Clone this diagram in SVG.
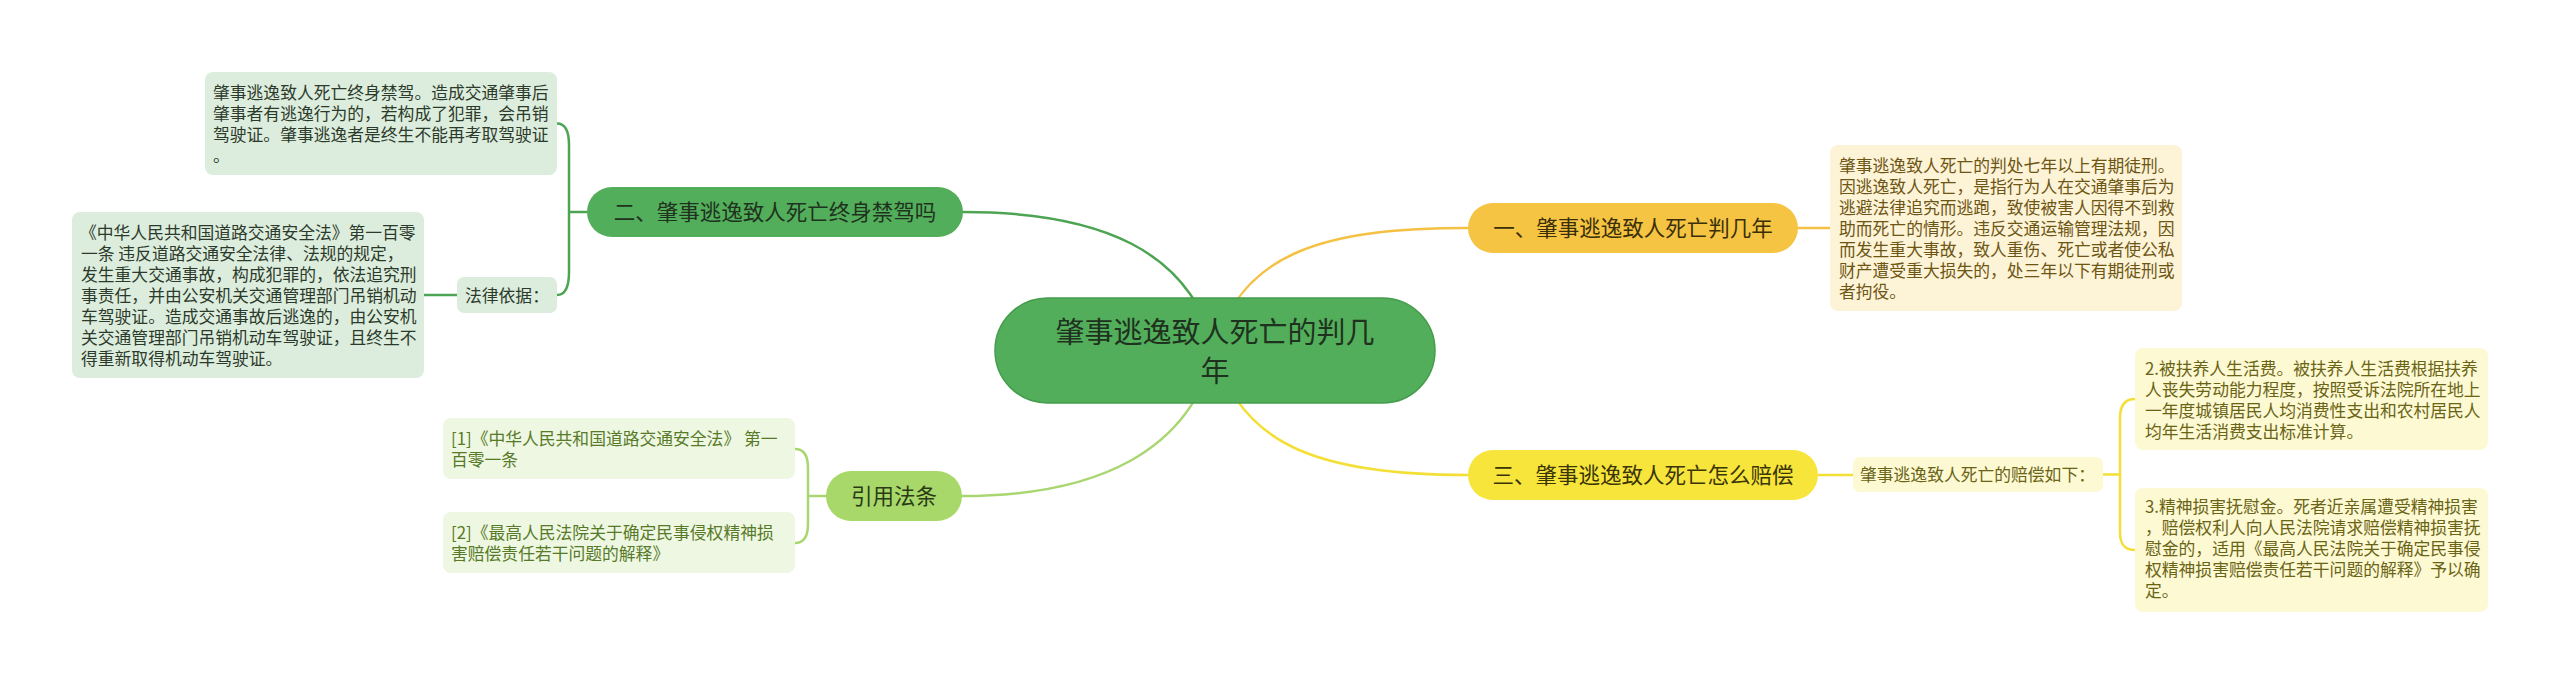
<svg xmlns="http://www.w3.org/2000/svg" width="2560" height="685" viewBox="0 0 2560 685">
<style>
.c{fill:none;stroke-width:2.5;stroke-linecap:round}
.cg{stroke:#4da453}
.co{stroke:#f4c144}
.cy{stroke:#f3df35}
.cl{stroke:#a9d670}
text{font-family:"Noto Sans CJK SC","Noto Sans CJK JP",sans-serif}
.lf{font-size:16.8px}
.br{font-size:21.5px;text-anchor:middle}
.tg{fill:#2c3a2c}
.to{fill:#6d5614}
.ty{fill:#6a6416}
.tl{fill:#577a28}
.bg{fill:#ddeddd}
.bo{fill:#fdf3d7}
.by{fill:#fdf9d3}
.bl{fill:#eef7e2}
</style>
<rect width="2560" height="685" fill="#ffffff"/>
<g id="connectors">
<path class="c cg" d="M1215,350 C1190,250 1100,212 963,212"/>
<path class="c co" d="M1215,350 C1240,250 1330,228 1468,228"/>
<path class="c cl" d="M1215,350 C1190,450 1100,496 962,496"/>
<path class="c cy" d="M1215,350 C1240,450 1330,475 1468,475"/>
<path class="c cg" d="M587,212 L569,212 M557,123.5 C566,123.5 569,132 569,145 L569,272 C569,285 566,295 557,295"/>
<path class="c cg" d="M424,295 L457,295"/>
<path class="c cl" d="M826,496 L808,496 M795,449 C804,449 808,456 808,468 L808,524 C808,536 804,543 795,543"/>
<path class="c co" d="M1798,228 L1830,228"/>
<path class="c cy" d="M1818,475 L1853,475"/>
<path class="c cy" d="M2103,474.5 L2120,474.5 M2135,399 C2125,399 2120,405 2120,418 L2120,532 C2120,545 2125,550 2135,550"/>
</g>
<g id="root">
<rect x="995" y="298" width="440" height="105" rx="52.5" fill="#52ae5a" stroke="#459d4c" stroke-width="1.5"/>
<text x="1215" y="343" font-size="29" text-anchor="middle" fill="#1f321f">肇事逃逸致人死亡的判几</text>
<text x="1215" y="382" font-size="29" text-anchor="middle" fill="#1f321f">年</text>
</g>
<g id="branch-2">
<rect x="587" y="187" width="376" height="50" rx="25" fill="#52ae5a"/>
<text class="br" x="775" y="220" fill="#1f321f">二、肇事逃逸致人死亡终身禁驾吗</text>
</g>
<g id="leaf-2a">
<rect class="bg" x="205" y="72" width="352" height="103" rx="8"/>
<text class="lf tg" x="213" y="98.5">肇事逃逸致人死亡终身禁驾。造成交通肇事后</text>
<text class="lf tg" x="213" y="119.5">肇事者有逃逸行为的，若构成了犯罪，会吊销</text>
<text class="lf tg" x="213" y="140.5">驾驶证。肇事逃逸者是终生不能再考取驾驶证</text>
<text class="lf tg" x="213" y="161.5">。</text>
</g>
<g id="leaf-2b">
<rect class="bg" x="457" y="277" width="100" height="36" rx="7"/>
<text class="lf tg" x="465" y="301.5">法律依据：</text>
</g>
<g id="leaf-2b-1">
<rect class="bg" x="72" y="212" width="352" height="166" rx="8"/>
<text class="lf tg" x="80" y="238.5">《中华人民共和国道路交通安全法》第一百零</text>
<text class="lf tg" x="81" y="259.5">一条 违反道路交通安全法律、法规的规定，</text>
<text class="lf tg" x="81" y="280.5">发生重大交通事故，构成犯罪的，依法追究刑</text>
<text class="lf tg" x="81" y="301.5">事责任，并由公安机关交通管理部门吊销机动</text>
<text class="lf tg" x="81" y="322.5">车驾驶证。造成交通事故后逃逸的，由公安机</text>
<text class="lf tg" x="81" y="343.5">关交通管理部门吊销机动车驾驶证，且终生不</text>
<text class="lf tg" x="81" y="364.5">得重新取得机动车驾驶证。</text>
</g>
<g id="branch-1">
<rect x="1468" y="203" width="330" height="50" rx="25" fill="#f6c443"/>
<text class="br" x="1633" y="236" fill="#3a2f08">一、肇事逃逸致人死亡判几年</text>
</g>
<g id="leaf-1a">
<rect class="bo" x="1830" y="145" width="352" height="166" rx="8"/>
<text class="lf to" x="1839" y="171.5">肇事逃逸致人死亡的判处七年以上有期徒刑。</text>
<text class="lf to" x="1839" y="192.5">因逃逸致人死亡，是指行为人在交通肇事后为</text>
<text class="lf to" x="1839" y="213.5">逃避法律追究而逃跑，致使被害人因得不到救</text>
<text class="lf to" x="1839" y="234.5">助而死亡的情形。违反交通运输管理法规，因</text>
<text class="lf to" x="1839" y="255.5">而发生重大事故，致人重伤、死亡或者使公私</text>
<text class="lf to" x="1839" y="276.5">财产遭受重大损失的，处三年以下有期徒刑或</text>
<text class="lf to" x="1839" y="297.5">者拘役。</text>
</g>
<g id="branch-3">
<rect x="1468" y="450" width="350" height="50" rx="25" fill="#f8e53c"/>
<text class="br" x="1643" y="483" fill="#3a3506">三、肇事逃逸致人死亡怎么赔偿</text>
</g>
<g id="leaf-3a">
<rect class="by" x="1853" y="457" width="250" height="35" rx="7"/>
<text class="lf ty" x="1860" y="481">肇事逃逸致人死亡的赔偿如下：</text>
</g>
<g id="leaf-3a-1">
<rect class="by" x="2135" y="348" width="353" height="102" rx="8"/>
<text class="lf ty" x="2145" y="374.5">2.被扶养人生活费。被扶养人生活费根据扶养</text>
<text class="lf ty" x="2145" y="395.5">人丧失劳动能力程度，按照受诉法院所在地上</text>
<text class="lf ty" x="2145" y="416.5">一年度城镇居民人均消费性支出和农村居民人</text>
<text class="lf ty" x="2145" y="437.5">均年生活消费支出标准计算。</text>
</g>
<g id="leaf-3a-2">
<rect class="by" x="2135" y="488" width="353" height="124" rx="8"/>
<text class="lf ty" x="2145" y="513">3.精神损害抚慰金。死者近亲属遭受精神损害</text>
<text class="lf ty" x="2145" y="534">，赔偿权利人向人民法院请求赔偿精神损害抚</text>
<text class="lf ty" x="2145" y="555">慰金的，适用《最高人民法院关于确定民事侵</text>
<text class="lf ty" x="2145" y="576">权精神损害赔偿责任若干问题的解释》予以确</text>
<text class="lf ty" x="2145" y="597">定。</text>
</g>
<g id="branch-4">
<rect x="826" y="471" width="136" height="50" rx="25" fill="#a8d86a"/>
<text class="br" x="894" y="504" fill="#2a3a16">引用法条</text>
</g>
<g id="leaf-4a">
<rect class="bl" x="443" y="418" width="352" height="61" rx="8"/>
<text class="lf tl" x="451" y="444.5">[1]《中华人民共和国道路交通安全法》 第一</text>
<text class="lf tl" x="451" y="465.5">百零一条</text>
</g>
<g id="leaf-4b">
<rect class="bl" x="443" y="512" width="352" height="61" rx="8"/>
<text class="lf tl" x="451" y="538.5">[2]《最高人民法院关于确定民事侵权精神损</text>
<text class="lf tl" x="451" y="559.5">害赔偿责任若干问题的解释》</text>
</g>
</svg>
